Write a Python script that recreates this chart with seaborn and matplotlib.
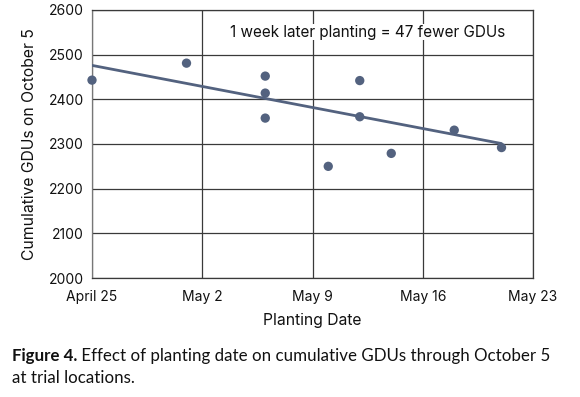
import matplotlib
matplotlib.use("Agg")
import matplotlib.pyplot as plt
import seaborn as sns
import pandas as pd
import numpy as np

# ---- data ----
planting_dates = ["2023-04-25", "2023-05-01", "2023-05-06", "2023-05-06", "2023-05-06",
                  "2023-05-10", "2023-05-12", "2023-05-12", "2023-05-14", "2023-05-18",
                  "2023-05-21"]
cumulative_gdus = [2443, 2481, 2452, 2414, 2358, 2250, 2442, 2361, 2279, 2331, 2292]

trend_dates = ["2023-04-25", "2023-05-21"]
trend_gdus = [2476, 2301]

tick_dates = ["2023-04-25", "2023-05-02", "2023-05-09", "2023-05-16", "2023-05-23"]
tick_labels = ["April 25", "May 2", "May 9", "May 16", "May 23"]
y_ticks = [2000, 2100, 2200, 2300, 2400, 2500, 2600]

annotation = "1 week later planting = 47 fewer GDUs"
x_label = "Planting Date"
y_label = "Cumulative GDUs on October 5"
caption_bold = "Figure 4."
caption_rest = " Effect of planting date on cumulative GDUs through October 5"
caption_line2 = "at trial locations."

# ---- build frames (days since April 25) ----
origin = pd.Timestamp("2023-04-25")
def days(lst):
    return [(pd.Timestamp(d) - origin).days for d in lst]

df = pd.DataFrame({"day": days(planting_dates), "gdu": cumulative_gdus})
trend = pd.DataFrame({"day": days(trend_dates), "gdu": trend_gdus})

sns.set_theme(style="white")
plt.rcParams["font.family"] = ["Inter", "DejaVu Sans"]
cap_font = ["Lato", "DejaVu Sans"]

color = "#53627f"
grid_c = "#3a3a3a"
txt_c = "#111111"

fig = plt.figure(figsize=(5.8, 3.97), dpi=100)
ax = fig.add_axes([92/580, 1 - 278/397, (533 - 92)/580, (278 - 10)/397])

sns.lineplot(data=trend, x="day", y="gdu", ax=ax, color=color, linewidth=2, zorder=3)
sns.scatterplot(data=df, x="day", y="gdu", ax=ax, color=color, s=45, edgecolor="none",
                zorder=4, clip_on=False)

ax.set_xlim(0, 28)
ax.set_ylim(2000, 2600)
ax.set_xticks(days(tick_dates))
ax.set_xticklabels(tick_labels, fontsize=10, color=txt_c)
ax.set_yticks(y_ticks)
ax.set_yticklabels([str(v) for v in y_ticks], fontsize=10, color=txt_c)
ax.tick_params(axis="both", length=0, pad=6)
ax.tick_params(axis="x", pad=9)

ax.grid(True, color=grid_c, linewidth=0.9)
ax.set_axisbelow(True)
for side in ["top", "right"]:
    ax.spines[side].set_visible(True)
    ax.spines[side].set_color(grid_c)
    ax.spines[side].set_linewidth(0.9)
ax.spines["bottom"].set_color(grid_c)
ax.spines["bottom"].set_linewidth(0.9)
ax.spines["left"].set_color("#777777")
ax.spines["left"].set_linewidth(0.9)

ax.set_xlabel(x_label, fontsize=11.3, color=txt_c, labelpad=6)
ax.set_ylabel(y_label, fontsize=11.3, color=txt_c, labelpad=8)

ax.text((230 - 92) / (533 - 92), 1 - (32 - 10) / (278 - 10), annotation,
        transform=ax.transAxes, ha="left", va="center", fontsize=11, color=txt_c,
        zorder=5, bbox=dict(facecolor="white", edgecolor="none", pad=0.5))

fig.text(12/580, 1 - 356/397, caption_bold, fontsize=12.2, fontweight="bold",
         ha="left", va="center", color=txt_c, family=cap_font)
fig.text(0.2, 1 - 356/397, caption_rest, fontsize=12.2,
         ha="left", va="center", color=txt_c, family=cap_font)
fig.text(12/580, 1 - 378/397, caption_line2, fontsize=12.2,
         ha="left", va="center", color=txt_c, family=cap_font)

# place caption remainder right after the bold part
fig.canvas.draw()
r = fig.canvas.get_renderer()
bb = fig.texts[0].get_window_extent(r)
fig.texts[1].set_position((bb.x1 / fig.bbox.width, 1 - 356/397))

fig.savefig("out.png", dpi=100)
